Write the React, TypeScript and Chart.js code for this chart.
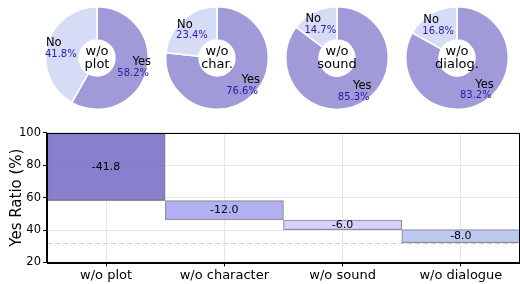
import React, { useEffect, useRef } from "react";
import { Chart, registerables } from "chart.js";
Chart.register(...registerables);

const donutNames = ["w/o\nplot", "w/o\nchar.", "w/o\nsound", "w/o\ndialog."];
const yesValues = [58.2, 76.6, 85.3, 83.2];
const noValues = [41.8, 23.4, 14.7, 16.8];
const sliceLabels = ["Yes", "No"];

const categories = ["w/o plot", "w/o character", "w/o sound", "w/o dialogue"];
const barStarts = [58.2, 46.2, 40.2, 32.2];
const barEnds = [100, 58.2, 46.2, 40.2];
const barLabels = ["-41.8", "-12.0", "-6.0", "-8.0"];
const baselineValue = 32.2;
const yTicks = [20, 40, 60, 80, 100];
const yTitle = "Yes Ratio (%)";

const FONT = "DejaVu Sans";

function Donut({ idx }: { idx: number }) {
  const ref = useRef<HTMLCanvasElement>(null);
  useEffect(() => {
    const labelPlugin = {
      id: "donutLabels",
      afterDraw(chart: any) {
        const ctx = chart.ctx;
        const meta = chart.getDatasetMeta(0);
        const arc0 = meta.data[0];
        const cx = arc0.x, cy = arc0.y;
        const R = arc0.outerRadius;
        ctx.save();
        ctx.fillStyle = "#000";
        ctx.font = `13px ${FONT}`;
        ctx.textAlign = "center";
        ctx.textBaseline = "middle";
        const lines = donutNames[idx].split("\n");
        ctx.fillText(lines[0], cx, cy - 6);
        ctx.fillText(lines[1], cx, cy + 7);
        const vals = [yesValues[idx], noValues[idx]];
        meta.data.forEach((arc: any, i: number) => {
          const mid = (arc.startAngle + arc.endAngle) / 2;
          const r = R * 0.73;
          const bx = cx + Math.cos(mid) * r;
          const by = cy + Math.sin(mid) * r;
          const t1 = sliceLabels[i];
          const t2 = vals[i].toFixed(1) + "%";
          ctx.font = `11.5px ${FONT}`;
          const w1 = ctx.measureText(t1).width;
          ctx.font = `10px ${FONT}`;
          const w2 = ctx.measureText(t2).width;
          const wm = Math.max(w1, w2);
          const right = Math.cos(mid) > 0;
          ctx.textBaseline = "middle";
          if (right) {
            const ex = bx + wm / 2;
            ctx.textAlign = "right";
            ctx.font = `11.5px ${FONT}`;
            ctx.fillStyle = "#000";
            ctx.fillText(t1, ex + 2, by - 5.5);
            ctx.font = `10px ${FONT}`;
            ctx.fillStyle = "#2a1aa8";
            ctx.fillText(t2, ex, by + 5.5);
          } else {
            const sx = bx - wm / 2;
            ctx.textAlign = "left";
            ctx.font = `11.5px ${FONT}`;
            ctx.fillStyle = "#000";
            ctx.fillText(t1, sx + 1, by - 5.5);
            ctx.font = `10px ${FONT}`;
            ctx.fillStyle = "#2a1aa8";
            ctx.fillText(t2, sx, by + 5.5);
          }
        });
        ctx.restore();
      },
    };
    const chart = new Chart(ref.current!, {
      type: "doughnut",
      data: {
        labels: sliceLabels,
        datasets: [
          {
            data: [yesValues[idx], noValues[idx]],
            backgroundColor: ["#a09ad8", "#d6dcf6"],
            borderColor: "#ffffff",
            borderWidth: 1.5,
          },
        ],
      },
      options: {
        animation: false,
        responsive: false,
        cutout: "35%",
        layout: { padding: { top: 6, bottom: 6, left: 8, right: 8 } },
        plugins: { legend: { display: false }, tooltip: { enabled: false } },
      },
      plugins: [labelPlugin],
    });
    return () => chart.destroy();
  }, [idx]);
  return (
    <canvas
      ref={ref}
      width={120}
      height={116}
      style={{ position: "absolute", left: 37 + 120 * idx, top: 0, width: 120, height: 116 }}
    />
  );
}

function Bars() {
  const ref = useRef<HTMLCanvasElement>(null);
  useEffect(() => {
    const extra = {
      id: "extra",
      beforeDatasetsDraw(chart: any) {
        const { ctx, chartArea, scales } = chart;
        const y = scales.y.getPixelForValue(baselineValue);
        ctx.save();
        ctx.strokeStyle = "#cccccc";
        ctx.lineWidth = 1;
        ctx.setLineDash([5, 3]);
        ctx.beginPath();
        ctx.moveTo(chartArea.left, Math.round(y) + 0.5);
        ctx.lineTo(chartArea.right, Math.round(y) + 0.5);
        ctx.stroke();
        ctx.restore();
      },
      afterDatasetsDraw(chart: any) {
        const { ctx, chartArea, scales } = chart;
        ctx.save();
        ctx.fillStyle = "#000";
        ctx.font = `11px ${FONT}`;
        ctx.textAlign = "center";
        ctx.textBaseline = "middle";
        barLabels.forEach((t, i) => {
          const x = scales.x.getPixelForValue(i);
          const y = scales.y.getPixelForValue((barStarts[i] + barEnds[i]) / 2);
          ctx.fillText(t, x, y);
        });
        ctx.strokeStyle = "#000";
        ctx.lineWidth = 1;
        ctx.strokeRect(
          Math.round(chartArea.left) + 0.5,
          Math.round(chartArea.top) + 0.5,
          Math.round(chartArea.right - chartArea.left) - 1,
          Math.round(chartArea.bottom - chartArea.top)
        );
        ctx.translate(17.5, (chartArea.top + chartArea.bottom) / 2);
        ctx.rotate(-Math.PI / 2);
        ctx.font = `15px ${FONT}`;
        ctx.fillText(yTitle, 0, 0);
        ctx.restore();
      },
    };
    const chart = new Chart(ref.current!, {
      type: "bar",
      data: {
        labels: categories,
        datasets: [
          {
            data: barStarts.map((s, i) => [s, barEnds[i]]) as any,
            backgroundColor: [
              "rgba(115,106,195,0.85)",
              "rgba(166,162,238,0.85)",
              "rgba(214,199,255,0.85)",
              "rgba(176,193,240,0.85)",
            ],
            borderColor: "#8f8f8f",
            borderWidth: 1,
            borderSkipped: false,
            barPercentage: 1,
            categoryPercentage: 1,
          },
        ],
      },
      options: {
        animation: false,
        responsive: false,
        layout: { padding: { top: 5, right: 0, left: 17, bottom: 0 } },
        plugins: { legend: { display: false }, tooltip: { enabled: false } },
        scales: {
          x: {
            grid: { offset: false, color: "#e6e6e6", tickColor: "#000", tickLength: 4 },
            border: { color: "#000" },
            ticks: { color: "#000", font: { family: FONT, size: 13 }, padding: 1 },
          },
          y: {
            min: 20,
            max: 100,
            afterBuildTicks: (axis: any) => {
              axis.ticks = yTicks.map((v) => ({ value: v }));
            },
            grid: { color: "#e6e6e6", tickColor: "#000", tickLength: 4 },
            border: { color: "#000" },
            ticks: { color: "#000", font: { family: FONT, size: 11.5 }, padding: 2 },
          },
        },
      },
      plugins: [extra],
    });
    return () => chart.destroy();
  }, []);
  return (
    <canvas
      ref={ref}
      width={520}
      height={160}
      style={{ position: "absolute", left: 0, top: 124, width: 520, height: 160 }}
    />
  );
}

export default function App() {
  return (
    <div style={{ position: "fixed", left: 0, top: 0, width: 520, height: 284, background: "#fff" }}>
      {[0, 1, 2, 3].map((i) => (
        <Donut key={i} idx={i} />
      ))}
      <Bars />
    </div>
  );
}
